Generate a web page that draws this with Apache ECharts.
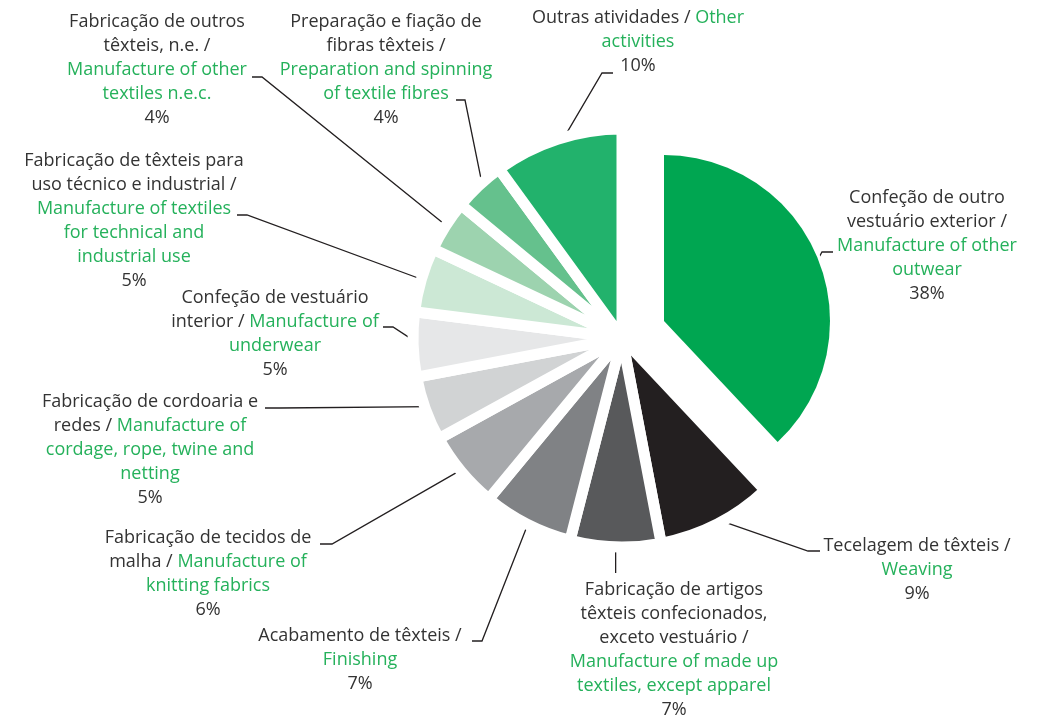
<!DOCTYPE html>
<html>
<head>
<meta charset="utf-8">
<script src="https://cdn.jsdelivr.net/npm/echarts@6/dist/echarts.min.js"></script>
<style>
  html, body { margin: 0; padding: 0; background: #fff; }
  #chart { width: 1039px; height: 716px; }
</style>
</head>
<body>
<div id="chart"></div>
<script>
// clockwise from 12 o'clock
const namesPt = [
  'Confeção de outro\nvestuário exterior /\n',
  'Tecelagem de têxteis /\n',
  'Fabricação de artigos\ntêxteis confecionados,\nexceto vestuário /\n',
  'Acabamento de têxteis /\n',
  'Fabricação de tecidos de\nmalha / ',
  'Fabricação de cordoaria e\nredes / ',
  'Confeção de vestuário\ninterior / ',
  'Fabricação de têxteis para\nuso técnico e industrial /\n',
  'Fabricação de outros\ntêxteis, n.e. /\n',
  'Preparação e fiação de\nfibras têxteis /\n',
  'Outras atividades / '
]
const namesEn = [
  'Manufacture of other\noutwear',
  'Weaving',
  'Manufacture of made up\ntextiles, except apparel',
  'Finishing',
  'Manufacture of\nknitting fabrics',
  'Manufacture of\ncordage, rope, twine and\nnetting',
  'Manufacture of\nunderwear',
  'Manufacture of textiles\nfor technical and\nindustrial use',
  'Manufacture of other\ntextiles n.e.c.',
  'Preparation and spinning\nof textile fibres',
  'Other\nactivities'
]
const shares = [38, 9, 7, 7, 6, 5, 5, 5, 4, 4, 10]

const colors = ['#00a651', '#231f20', '#58595b', '#808285', '#a7a9ac', '#d1d3d4',
                '#e6e7e8', '#cce8d5', '#9dd3af', '#65c18d', '#22b26c']

// label block centre x / first line centre y, leader knee and end
const labelPos = [
  { x: 927, y: 198, knee: [822, 252], end: [833, 252] },
  { x: 917, y: 546, knee: [808, 551], end: [820, 551] },
  { x: 674, y: 590, knee: [null, 573], end: null },
  { x: 360, y: 636, knee: [482, 641], end: [472, 641] },
  { x: 208, y: 538, knee: [332, 544], end: [320, 544] },
  { x: 150, y: 402, knee: [280, 408], end: [265, 408] },
  { x: 275, y: 298, knee: [393, 327], end: [383, 327] },
  { x: 134, y: 161, knee: [247, 215], end: [237, 215] },
  { x: 157, y: 22,  knee: [262, 77],  end: [252, 77] },
  { x: 386, y: 22,  knee: [465, 100], end: [456, 100] },
  { x: 638, y: 18,  knee: [602, 73],  end: [613, 73] }
]

const RING = { center: [622, 338], radius: 209, gap: 11 }
const BIG  = { center: [664, 321], radius: 166 }

const FONT = '"Open Sans", sans-serif'
const FS = 18
const LH = 24

function richText(i) {
  const pt = namesPt[i].split('\n')
  const en = namesEn[i].split('\n')
  const tail = pt.pop()
  const lines = pt.map(s => '{pt|' + s + '}')
  lines.push((tail ? '{pt|' + tail + '}' : '') + '{en|' + en.shift() + '}')
  en.forEach(s => lines.push('{en|' + s + '}'))
  lines.push('{pt|' + shares[i] + '%}')
  return lines.join('\n')
}

function layoutLabel(params) {
  const L = labelPos[params.dataIndex]
  const s = params.seriesIndex === 0 ? RING : BIG
  const rVis = s.radius - (s.gap || 0) / 2 - 1
  let p0 = params.labelLinePoints ? params.labelLinePoints[0] : [L.x, L.y]
  // pull the leader start back onto the visible edge of the slice
  const dx = p0[0] - s.center[0], dy = p0[1] - s.center[1]
  const d = Math.sqrt(dx * dx + dy * dy) || 1
  p0 = [s.center[0] + dx / d * rVis, s.center[1] + dy / d * rVis]
  const knee = [L.knee[0] == null ? p0[0] : L.knee[0], L.knee[1]]
  const pts = [p0, knee]
  if (L.end) pts.push(L.end)
  return {
    x: L.x, y: L.y - LH / 2,
    align: 'center', verticalAlign: 'top',
    labelLinePoints: pts
  }
}

const labelCfg = {
  show: true,
  position: 'outside',
  formatter: p => richText(p.dataIndex),
  rich: {
    pt: { color: '#333333', fontFamily: FONT, fontSize: FS, lineHeight: LH, align: 'center' },
    en: { color: '#25b15b', fontFamily: FONT, fontSize: FS, lineHeight: LH, align: 'center' }
  }
}
const lineCfg = { show: true, lineStyle: { color: '#231f20', width: 1.3 } }

// main ring: everything except the big slice
const ringData = shares.map((v, i) => ({
  value: v,
  itemStyle: { color: i === 0 ? 'rgba(0,0,0,0)' : colors[i] },
  label: { show: i !== 0 },
  labelLine: { show: i !== 0 }
}))
// pulled-out big slice, smaller radius
const bigData = shares.map((v, i) => ({
  value: v,
  itemStyle: { color: i === 0 ? colors[0] : 'rgba(0,0,0,0)' },
  label: { show: i === 0 },
  labelLine: { show: i === 0 }
}))

const chart = echarts.init(document.getElementById('chart'), null, { renderer: 'canvas' })
chart.setOption({
  animation: false,
  series: [
    {
      type: 'pie', silent: true,
      center: RING.center, radius: RING.radius,
      startAngle: 90, clockwise: true,
      avoidLabelOverlap: false,
      itemStyle: { borderColor: '#fff', borderWidth: RING.gap },
      label: labelCfg, labelLine: lineCfg,
      labelLayout: layoutLabel,
      data: ringData
    },
    {
      type: 'pie', silent: true,
      center: BIG.center, radius: BIG.radius,
      startAngle: 90, clockwise: true,
      avoidLabelOverlap: false,
      label: labelCfg, labelLine: lineCfg,
      labelLayout: layoutLabel,
      data: bigData
    }
  ]
})
</script>
</body>
</html>
